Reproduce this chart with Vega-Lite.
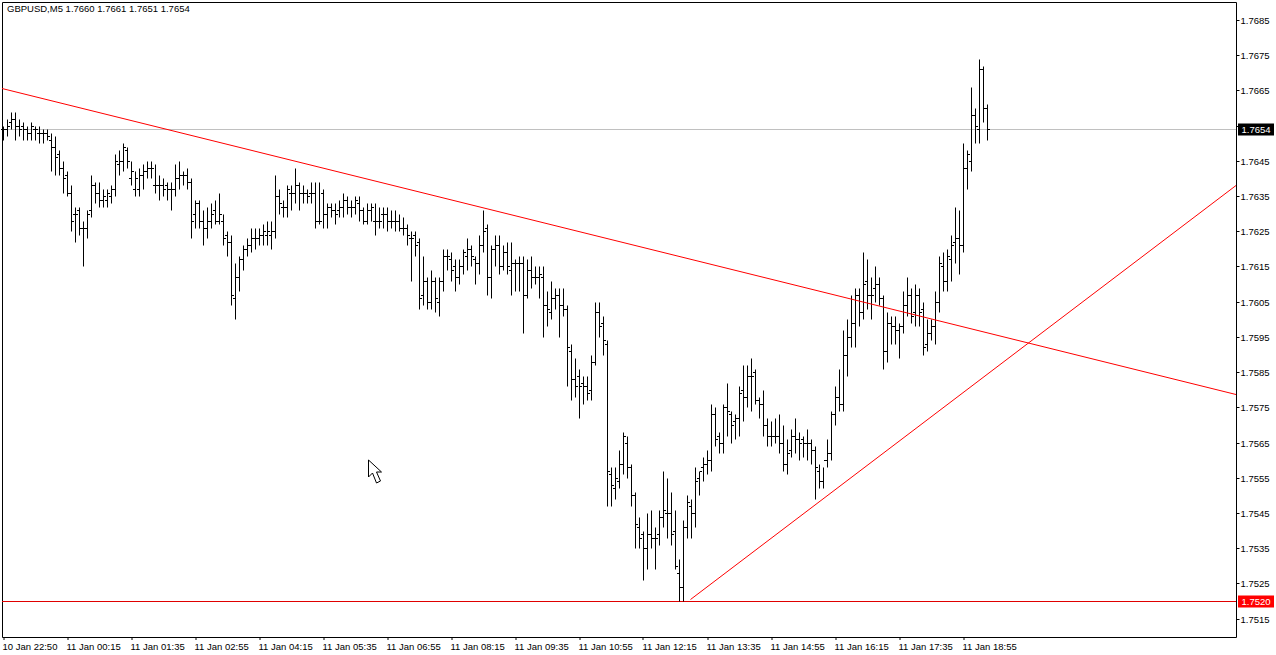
{
"$schema":"https://vega.github.io/schema/vega-lite/v6.json",
"width":1234,"height":635,
"autosize":{"type":"none"},
"padding":{"left":2,"top":2,"right":40,"bottom":18},
"background":"white",
"title":{"text":"GBPUSD,M5  1.7660 1.7661 1.7651 1.7654","anchor":"start","frame":"group","offset":-11,"dx":5,"fontSize":9.5,"fontWeight":"normal","font":"Liberation Sans","color":"black"},
"config":{"view":{"stroke":"black","strokeWidth":1}},
"datasets":{
"bars":[
{"i":0,"o":1.7654,"h":1.7655,"l":1.7651,"c":1.7654},{"i":1,"o":1.7654,"h":1.7657,"l":1.7652,"c":1.7655},{"i":2,"o":1.7656,"h":1.7659,"l":1.7654,"c":1.7657},{"i":3,"o":1.7657,"h":1.7659,"l":1.7651,"c":1.7655},{"i":4,"o":1.7655,"h":1.7657,"l":1.7652,"c":1.7654},{"i":5,"o":1.7655,"h":1.7656,"l":1.7651,"c":1.7654},{"i":6,"o":1.7654,"h":1.7655,"l":1.7651,"c":1.7653},{"i":7,"o":1.7653,"h":1.7656,"l":1.7651,"c":1.7655},{"i":8,"o":1.7654,"h":1.7655,"l":1.7651,"c":1.7654},{"i":9,"o":1.7653,"h":1.7655,"l":1.765,"c":1.7653},
{"i":10,"o":1.7653,"h":1.7654,"l":1.765,"c":1.7653},{"i":11,"o":1.7653,"h":1.7654,"l":1.7651,"c":1.7652},{"i":12,"o":1.7651,"h":1.7653,"l":1.7642,"c":1.7649},{"i":13,"o":1.7649,"h":1.7652,"l":1.7641,"c":1.7646},{"i":14,"o":1.7647,"h":1.7648,"l":1.7641,"c":1.7643},{"i":15,"o":1.7643,"h":1.7645,"l":1.7636,"c":1.764},{"i":16,"o":1.7641,"h":1.7642,"l":1.7635,"c":1.7636},{"i":17,"o":1.7636,"h":1.7638,"l":1.7625,"c":1.7628},{"i":18,"o":1.763,"h":1.7632,"l":1.7622,"c":1.763},{"i":19,"o":1.7631,"h":1.7632,"l":1.7624,"c":1.7626},
{"i":20,"o":1.7626,"h":1.7628,"l":1.7615,"c":1.7626},{"i":21,"o":1.7626,"h":1.7631,"l":1.7623,"c":1.763},{"i":22,"o":1.7631,"h":1.7641,"l":1.7629,"c":1.7638},{"i":23,"o":1.7638,"h":1.7639,"l":1.7633,"c":1.7636},{"i":24,"o":1.7636,"h":1.7639,"l":1.7632,"c":1.7634},{"i":25,"o":1.7634,"h":1.7637,"l":1.7632,"c":1.7635},{"i":26,"o":1.7634,"h":1.7637,"l":1.7632,"c":1.7636},{"i":27,"o":1.7635,"h":1.7638,"l":1.7633,"c":1.7637},{"i":28,"o":1.7637,"h":1.7647,"l":1.7635,"c":1.7645},{"i":29,"o":1.7644,"h":1.7648,"l":1.7641,"c":1.7645},
{"i":30,"o":1.7645,"h":1.765,"l":1.7642,"c":1.7649},{"i":31,"o":1.7648,"h":1.7649,"l":1.7643,"c":1.7645},{"i":32,"o":1.764,"h":1.7645,"l":1.7638,"c":1.7642},{"i":33,"o":1.7637,"h":1.7642,"l":1.7635,"c":1.764},{"i":34,"o":1.7637,"h":1.7643,"l":1.7635,"c":1.7641},{"i":35,"o":1.7641,"h":1.7644,"l":1.7637,"c":1.7642},{"i":36,"o":1.7642,"h":1.7645,"l":1.764,"c":1.7643},{"i":37,"o":1.7643,"h":1.7645,"l":1.764,"c":1.7643},{"i":38,"o":1.7638,"h":1.7644,"l":1.7636,"c":1.7638},{"i":39,"o":1.7638,"h":1.7641,"l":1.7634,"c":1.7638},
{"i":40,"o":1.7638,"h":1.764,"l":1.7635,"c":1.7637},{"i":41,"o":1.7638,"h":1.7639,"l":1.7634,"c":1.7637},{"i":42,"o":1.7637,"h":1.7639,"l":1.7631,"c":1.7637},{"i":43,"o":1.7637,"h":1.7644,"l":1.7635,"c":1.764},{"i":44,"o":1.764,"h":1.7645,"l":1.7637,"c":1.7641},{"i":45,"o":1.7641,"h":1.7642,"l":1.7638,"c":1.7641},{"i":46,"o":1.7641,"h":1.7643,"l":1.7637,"c":1.7639},{"i":47,"o":1.7639,"h":1.764,"l":1.7623,"c":1.7628},{"i":48,"o":1.763,"h":1.7634,"l":1.7626,"c":1.7633},{"i":49,"o":1.7633,"h":1.7634,"l":1.7626,"c":1.7628},
{"i":50,"o":1.7628,"h":1.7631,"l":1.7621,"c":1.7626},{"i":51,"o":1.7626,"h":1.7632,"l":1.7623,"c":1.7628},{"i":52,"o":1.7628,"h":1.7633,"l":1.7626,"c":1.763},{"i":53,"o":1.7631,"h":1.7634,"l":1.7627,"c":1.7628},{"i":54,"o":1.7628,"h":1.7636,"l":1.7627,"c":1.763},{"i":55,"o":1.7628,"h":1.763,"l":1.7621,"c":1.7623},{"i":56,"o":1.7624,"h":1.7625,"l":1.7618,"c":1.7622},{"i":57,"o":1.7622,"h":1.7624,"l":1.7604,"c":1.7607},{"i":58,"o":1.7606,"h":1.7616,"l":1.76,"c":1.7612},{"i":59,"o":1.7612,"h":1.7618,"l":1.7608,"c":1.7617},
{"i":60,"o":1.7617,"h":1.7621,"l":1.7614,"c":1.762},{"i":61,"o":1.762,"h":1.7623,"l":1.7618,"c":1.7621},{"i":62,"o":1.7621,"h":1.7626,"l":1.7619,"c":1.7623},{"i":63,"o":1.7623,"h":1.7626,"l":1.762,"c":1.7623},{"i":64,"o":1.7623,"h":1.7626,"l":1.7621,"c":1.7624},{"i":65,"o":1.7624,"h":1.7627,"l":1.7621,"c":1.7625},{"i":66,"o":1.7624,"h":1.7628,"l":1.7621,"c":1.7625},{"i":67,"o":1.7624,"h":1.7628,"l":1.762,"c":1.7625},{"i":68,"o":1.7625,"h":1.7641,"l":1.7623,"c":1.7635},{"i":69,"o":1.7635,"h":1.7637,"l":1.763,"c":1.7633},
{"i":70,"o":1.7632,"h":1.7634,"l":1.7629,"c":1.7632},{"i":71,"o":1.7632,"h":1.7638,"l":1.7629,"c":1.7637},{"i":72,"o":1.7636,"h":1.7638,"l":1.7631,"c":1.7636},{"i":73,"o":1.7636,"h":1.7643,"l":1.7633,"c":1.7638},{"i":74,"o":1.7638,"h":1.7639,"l":1.7631,"c":1.7636},{"i":75,"o":1.7636,"h":1.7638,"l":1.7633,"c":1.7636},{"i":76,"o":1.7636,"h":1.7637,"l":1.7633,"c":1.7635},{"i":77,"o":1.7636,"h":1.7639,"l":1.7633,"c":1.7636},{"i":78,"o":1.7636,"h":1.7639,"l":1.7626,"c":1.7628},{"i":79,"o":1.7628,"h":1.7639,"l":1.7627,"c":1.7628},
{"i":80,"o":1.7636,"h":1.7637,"l":1.7626,"c":1.763},{"i":81,"o":1.763,"h":1.7633,"l":1.7626,"c":1.7632},{"i":82,"o":1.7632,"h":1.7633,"l":1.7629,"c":1.7631},{"i":83,"o":1.7631,"h":1.7633,"l":1.7627,"c":1.763},{"i":84,"o":1.7631,"h":1.7634,"l":1.7629,"c":1.7632},{"i":85,"o":1.7632,"h":1.7636,"l":1.7629,"c":1.7634},{"i":86,"o":1.7634,"h":1.7635,"l":1.763,"c":1.7632},{"i":87,"o":1.7632,"h":1.7634,"l":1.7629,"c":1.7632},{"i":88,"o":1.7632,"h":1.7635,"l":1.763,"c":1.7634},{"i":89,"o":1.7633,"h":1.7635,"l":1.7628,"c":1.7631},
{"i":90,"o":1.7631,"h":1.7632,"l":1.7627,"c":1.7628},{"i":91,"o":1.7628,"h":1.7633,"l":1.7627,"c":1.7631},{"i":92,"o":1.7631,"h":1.7633,"l":1.7628,"c":1.7632},{"i":93,"o":1.7628,"h":1.7633,"l":1.7624,"c":1.7628},{"i":94,"o":1.7628,"h":1.7632,"l":1.7626,"c":1.7628},{"i":95,"o":1.763,"h":1.7632,"l":1.7626,"c":1.763},{"i":96,"o":1.763,"h":1.7632,"l":1.7625,"c":1.7628},{"i":97,"o":1.7628,"h":1.7631,"l":1.7626,"c":1.7628},{"i":98,"o":1.7628,"h":1.7631,"l":1.7625,"c":1.7628},{"i":99,"o":1.7628,"h":1.763,"l":1.7625,"c":1.7626},
{"i":100,"o":1.7626,"h":1.7629,"l":1.7624,"c":1.7626},{"i":101,"o":1.7626,"h":1.7627,"l":1.7621,"c":1.7624},{"i":102,"o":1.7623,"h":1.7625,"l":1.7611,"c":1.7623},{"i":103,"o":1.7624,"h":1.7625,"l":1.7618,"c":1.7621},{"i":104,"o":1.7622,"h":1.7623,"l":1.7603,"c":1.7606},{"i":105,"o":1.7607,"h":1.7618,"l":1.7604,"c":1.7611},{"i":106,"o":1.7611,"h":1.7612,"l":1.7603,"c":1.7605},{"i":107,"o":1.7605,"h":1.7614,"l":1.7603,"c":1.7611},{"i":108,"o":1.7611,"h":1.7612,"l":1.7602,"c":1.7606},{"i":109,"o":1.7605,"h":1.7612,"l":1.7601,"c":1.7611},
{"i":110,"o":1.7611,"h":1.762,"l":1.7608,"c":1.7618},{"i":111,"o":1.7618,"h":1.762,"l":1.7614,"c":1.7618},{"i":112,"o":1.7617,"h":1.7619,"l":1.7611,"c":1.7614},{"i":113,"o":1.7615,"h":1.7617,"l":1.7608,"c":1.7612},{"i":114,"o":1.7612,"h":1.7617,"l":1.761,"c":1.7615},{"i":115,"o":1.7615,"h":1.762,"l":1.7613,"c":1.7619},{"i":116,"o":1.7618,"h":1.7623,"l":1.7614,"c":1.762},{"i":117,"o":1.762,"h":1.7621,"l":1.7615,"c":1.7618},{"i":118,"o":1.7617,"h":1.7618,"l":1.761,"c":1.7616},{"i":119,"o":1.7616,"h":1.7624,"l":1.7613,"c":1.7621},
{"i":120,"o":1.7621,"h":1.7631,"l":1.7619,"c":1.7625},{"i":121,"o":1.7626,"h":1.7627,"l":1.7607,"c":1.7612},{"i":122,"o":1.7612,"h":1.7621,"l":1.7606,"c":1.762},{"i":123,"o":1.762,"h":1.7624,"l":1.7615,"c":1.7621},{"i":124,"o":1.7621,"h":1.7624,"l":1.7613,"c":1.7615},{"i":125,"o":1.7615,"h":1.7621,"l":1.7614,"c":1.7619},{"i":126,"o":1.7619,"h":1.7622,"l":1.7613,"c":1.7615},{"i":127,"o":1.7614,"h":1.7622,"l":1.7607,"c":1.7616},{"i":128,"o":1.7616,"h":1.7617,"l":1.7608,"c":1.7616},{"i":129,"o":1.7616,"h":1.7618,"l":1.7608,"c":1.7616},
{"i":130,"o":1.7616,"h":1.7618,"l":1.7596,"c":1.7607},{"i":131,"o":1.7607,"h":1.7617,"l":1.7606,"c":1.7614},{"i":132,"o":1.7614,"h":1.7618,"l":1.7609,"c":1.7612},{"i":133,"o":1.7612,"h":1.7615,"l":1.761,"c":1.7612},{"i":134,"o":1.7612,"h":1.7615,"l":1.7606,"c":1.7613},{"i":135,"o":1.7612,"h":1.7615,"l":1.7595,"c":1.7604},{"i":136,"o":1.7604,"h":1.7608,"l":1.7598,"c":1.7603},{"i":137,"o":1.7602,"h":1.7611,"l":1.76,"c":1.7606},{"i":138,"o":1.7606,"h":1.7609,"l":1.7603,"c":1.7607},{"i":139,"o":1.7607,"h":1.7609,"l":1.7595,"c":1.7604},
{"i":140,"o":1.7604,"h":1.7609,"l":1.7601,"c":1.7603},{"i":141,"o":1.7603,"h":1.7604,"l":1.7581,"c":1.7592},{"i":142,"o":1.7591,"h":1.7593,"l":1.7577,"c":1.7583},{"i":143,"o":1.7583,"h":1.7589,"l":1.7578,"c":1.7581},{"i":144,"o":1.7584,"h":1.7586,"l":1.7572,"c":1.7581},{"i":145,"o":1.7582,"h":1.7584,"l":1.7576,"c":1.7581},{"i":146,"o":1.7581,"h":1.7584,"l":1.7577,"c":1.7579},{"i":147,"o":1.758,"h":1.759,"l":1.7577,"c":1.7588},{"i":148,"o":1.7588,"h":1.7605,"l":1.7587,"c":1.7602},{"i":149,"o":1.7602,"h":1.7605,"l":1.7595,"c":1.7598},
{"i":150,"o":1.7599,"h":1.7601,"l":1.759,"c":1.7594},{"i":151,"o":1.7593,"h":1.7594,"l":1.7547,"c":1.7557},{"i":152,"o":1.7556,"h":1.7558,"l":1.7547,"c":1.7553},{"i":153,"o":1.7552,"h":1.7558,"l":1.7549,"c":1.7555},{"i":154,"o":1.7554,"h":1.7563,"l":1.7552,"c":1.7559},{"i":155,"o":1.7559,"h":1.7568,"l":1.7556,"c":1.7567},{"i":156,"o":1.7565,"h":1.7567,"l":1.7555,"c":1.7558},{"i":157,"o":1.7558,"h":1.7559,"l":1.7547,"c":1.755},{"i":158,"o":1.755,"h":1.7551,"l":1.7535,"c":1.7542},{"i":159,"o":1.7541,"h":1.7544,"l":1.7535,"c":1.7538},
{"i":160,"o":1.7539,"h":1.754,"l":1.7526,"c":1.7535},{"i":161,"o":1.7535,"h":1.7545,"l":1.7529,"c":1.7539},{"i":162,"o":1.7539,"h":1.7546,"l":1.7535,"c":1.7538},{"i":163,"o":1.7538,"h":1.7541,"l":1.7529,"c":1.7538},{"i":164,"o":1.7539,"h":1.7546,"l":1.7536,"c":1.7544},{"i":165,"o":1.7544,"h":1.7557,"l":1.7541,"c":1.7546},{"i":166,"o":1.7545,"h":1.7555,"l":1.7538,"c":1.7545},{"i":167,"o":1.7545,"h":1.7551,"l":1.7536,"c":1.7539},{"i":168,"o":1.754,"h":1.7546,"l":1.7529,"c":1.753},{"i":169,"o":1.7528,"h":1.7532,"l":1.752,"c":1.7524},
{"i":170,"o":1.7524,"h":1.7543,"l":1.752,"c":1.7541},{"i":171,"o":1.7541,"h":1.755,"l":1.7538,"c":1.7548},{"i":172,"o":1.7547,"h":1.7549,"l":1.7538,"c":1.7545},{"i":173,"o":1.7545,"h":1.7558,"l":1.7541,"c":1.7554},{"i":174,"o":1.7555,"h":1.7557,"l":1.755,"c":1.7557},{"i":175,"o":1.7558,"h":1.7561,"l":1.7554,"c":1.7559},{"i":176,"o":1.7559,"h":1.7563,"l":1.7556,"c":1.756},{"i":177,"o":1.756,"h":1.7576,"l":1.7557,"c":1.7573},{"i":178,"o":1.7573,"h":1.7575,"l":1.7564,"c":1.7566},{"i":179,"o":1.7567,"h":1.7568,"l":1.7562,"c":1.7565},
{"i":180,"o":1.7565,"h":1.7576,"l":1.7562,"c":1.7575},{"i":181,"o":1.7575,"h":1.7582,"l":1.7567,"c":1.7574},{"i":182,"o":1.7573,"h":1.7574,"l":1.7565,"c":1.757},{"i":183,"o":1.7571,"h":1.7573,"l":1.7566,"c":1.7572},{"i":184,"o":1.7572,"h":1.7581,"l":1.7567,"c":1.7579},{"i":185,"o":1.758,"h":1.7587,"l":1.7571,"c":1.7578},{"i":186,"o":1.7578,"h":1.7587,"l":1.7575,"c":1.7584},{"i":187,"o":1.7584,"h":1.7589,"l":1.7574,"c":1.7584},{"i":188,"o":1.7585,"h":1.7586,"l":1.7576,"c":1.7577},{"i":189,"o":1.7577,"h":1.7578,"l":1.7572,"c":1.7576},
{"i":190,"o":1.7576,"h":1.758,"l":1.7567,"c":1.757},{"i":191,"o":1.757,"h":1.7572,"l":1.7564,"c":1.7567},{"i":192,"o":1.7567,"h":1.7571,"l":1.7564,"c":1.7567},{"i":193,"o":1.7567,"h":1.7572,"l":1.7565,"c":1.7567},{"i":194,"o":1.7567,"h":1.7573,"l":1.7562,"c":1.7565},{"i":195,"o":1.7565,"h":1.757,"l":1.7557,"c":1.7559},{"i":196,"o":1.7559,"h":1.7566,"l":1.7556,"c":1.7562},{"i":197,"o":1.7563,"h":1.7569,"l":1.7561,"c":1.7567},{"i":198,"o":1.7567,"h":1.7572,"l":1.7562,"c":1.7566},{"i":199,"o":1.7566,"h":1.7568,"l":1.756,"c":1.7565},
{"i":200,"o":1.7566,"h":1.7567,"l":1.7561,"c":1.7565},{"i":201,"o":1.7565,"h":1.7569,"l":1.756,"c":1.7565},{"i":202,"o":1.7565,"h":1.7566,"l":1.7559,"c":1.7563},{"i":203,"o":1.7563,"h":1.7564,"l":1.7549,"c":1.7558},{"i":204,"o":1.7557,"h":1.7559,"l":1.7552,"c":1.7554},{"i":205,"o":1.7554,"h":1.7558,"l":1.7552,"c":1.756},{"i":206,"o":1.756,"h":1.7566,"l":1.7558,"c":1.7562},{"i":207,"o":1.7562,"h":1.7574,"l":1.756,"c":1.7573},{"i":208,"o":1.7573,"h":1.7581,"l":1.757,"c":1.7578},{"i":209,"o":1.7578,"h":1.7586,"l":1.7574,"c":1.7576},
{"i":210,"o":1.7576,"h":1.7597,"l":1.7574,"c":1.759},{"i":211,"o":1.759,"h":1.76,"l":1.7584,"c":1.7595},{"i":212,"o":1.7595,"h":1.7607,"l":1.7592,"c":1.7599},{"i":213,"o":1.7599,"h":1.7609,"l":1.7592,"c":1.7607},{"i":214,"o":1.7607,"h":1.7609,"l":1.7598,"c":1.7602},{"i":215,"o":1.7602,"h":1.7619,"l":1.76,"c":1.761},{"i":216,"o":1.7611,"h":1.7617,"l":1.7603,"c":1.7607},{"i":217,"o":1.7607,"h":1.7612,"l":1.76,"c":1.7607},{"i":218,"o":1.7609,"h":1.7615,"l":1.7605,"c":1.761},{"i":219,"o":1.761,"h":1.7612,"l":1.7604,"c":1.7606},
{"i":220,"o":1.7606,"h":1.7607,"l":1.7586,"c":1.7591},{"i":221,"o":1.7591,"h":1.7602,"l":1.7588,"c":1.7599},{"i":222,"o":1.7599,"h":1.7601,"l":1.7593,"c":1.7598},{"i":223,"o":1.7598,"h":1.7601,"l":1.7593,"c":1.7597},{"i":224,"o":1.7597,"h":1.7599,"l":1.7589,"c":1.7598},{"i":225,"o":1.7598,"h":1.7608,"l":1.7596,"c":1.7604},{"i":226,"o":1.7604,"h":1.7612,"l":1.7601,"c":1.7607},{"i":227,"o":1.7607,"h":1.7609,"l":1.7599,"c":1.7601},{"i":228,"o":1.7602,"h":1.761,"l":1.7598,"c":1.7607},{"i":229,"o":1.7607,"h":1.7609,"l":1.7598,"c":1.7602},
{"i":230,"o":1.7603,"h":1.7605,"l":1.759,"c":1.7592},{"i":231,"o":1.7593,"h":1.76,"l":1.7591,"c":1.7596},{"i":232,"o":1.7596,"h":1.76,"l":1.7594,"c":1.7598},{"i":233,"o":1.7598,"h":1.7608,"l":1.7593,"c":1.7605},{"i":234,"o":1.7605,"h":1.7618,"l":1.7602,"c":1.7616},{"i":235,"o":1.7615,"h":1.7619,"l":1.7608,"c":1.7611},{"i":236,"o":1.7611,"h":1.762,"l":1.7608,"c":1.7618},{"i":237,"o":1.7617,"h":1.7624,"l":1.7611,"c":1.7621},{"i":238,"o":1.7622,"h":1.7632,"l":1.7616,"c":1.7623},{"i":239,"o":1.7623,"h":1.7631,"l":1.7613,"c":1.7621},
{"i":240,"o":1.7621,"h":1.765,"l":1.7619,"c":1.7643},{"i":241,"o":1.7643,"h":1.7648,"l":1.7637,"c":1.7647},{"i":242,"o":1.7645,"h":1.7666,"l":1.7642,"c":1.7658},{"i":243,"o":1.7658,"h":1.766,"l":1.765,"c":1.7655},{"i":244,"o":1.7654,"h":1.7674,"l":1.765,"c":1.7671},{"i":245,"o":1.7671,"h":1.7672,"l":1.7656,"c":1.766},{"i":246,"o":1.766,"h":1.7661,"l":1.7651,"c":1.7654}
]},
"layer":[
{"data":{"values":[{"p":1.7654}]},"mark":{"type":"rule","color":"#c0c0c0","strokeWidth":1,"yOffset":0.5},
 "encoding":{"y":{"field":"p","type":"quantitative","scale":{"domain":[1.75098,1.76901],"round":true,"nice":false,"zero":false},
   "axis":{"title":null,"grid":false,"orient":"right","format":".4f","tickCount":40,"values":[1.7515,1.7525,1.7535,1.7545,1.7555,1.7565,1.7575,1.7585,1.7595,1.7605,1.7615,1.7625,1.7635,1.7645,1.7655,1.7665,1.7675,1.7685],
    "tickSize":3,"tickColor":"black","domain":false,"labelColor":"black","labelPadding":1,"labelFont":"Liberation Sans","labelFontSize":9.5,"labelOverlap":false,"labelBound":false}}}},
{"data":{"values":[{"p":1.752}]},"mark":{"type":"rule","color":"#e00000","strokeWidth":1,"yOffset":0.5},
 "encoding":{"y":{"field":"p","type":"quantitative","scale":{"domain":[1.75098,1.76901],"round":true,"nice":false,"zero":false}}}},
{"data":{"name":"bars"},"mark":{"type":"rule","color":"black","strokeWidth":1,"yOffset":0.5,"y2Offset":0.5},
 "encoding":{
  "x":{"field":"i","type":"quantitative","scale":{"domain":[-0.375,308.125],"nice":false,"zero":false},
   "axis":{"title":null,"grid":false,"translate":0,"domain":false,"values":[0,16,32,48,64,80,96,112,128,144,160,176,192,208,224,240],
    "labelExpr":"['10 Jan 22:50','11 Jan 00:15','11 Jan 01:35','11 Jan 02:55','11 Jan 04:15','11 Jan 05:35','11 Jan 06:55','11 Jan 08:15','11 Jan 09:35','11 Jan 10:55','11 Jan 12:15','11 Jan 13:35','11 Jan 14:55','11 Jan 16:15','11 Jan 17:35','11 Jan 18:55'][datum.value/16]",
    "labelAlign":"left","labelBaseline":"top","labelPadding":2,"labelOffset":-1,"tickSize":3,"tickColor":"black","labelColor":"black","labelFont":"Liberation Sans","labelFontSize":9.5,"labelOverlap":false,"labelFlush":false,"labelBound":false}},
  "y":{"field":"h","type":"quantitative","scale":{"domain":[1.75098,1.76901],"round":true,"nice":false,"zero":false}},
  "y2":{"field":"l"}}},
{"data":{"name":"bars"},"mark":{"type":"tick","orient":"horizontal","size":2,"thickness":1,"xOffset":-1.5,"yOffset":0.5,"color":"black","opacity":1},
 "encoding":{"x":{"field":"i","type":"quantitative","scale":{"domain":[-0.375,308.125],"nice":false,"zero":false}},
  "y":{"field":"o","type":"quantitative","scale":{"domain":[1.75098,1.76901],"round":true,"nice":false,"zero":false}}}},
{"data":{"name":"bars"},"mark":{"type":"tick","orient":"horizontal","size":2,"thickness":1,"xOffset":1.5,"yOffset":0.5,"color":"black","opacity":1},
 "encoding":{"x":{"field":"i","type":"quantitative","scale":{"domain":[-0.375,308.125],"nice":false,"zero":false}},
  "y":{"field":"c","type":"quantitative","scale":{"domain":[1.75098,1.76901],"round":true,"nice":false,"zero":false}}}},
{"data":{"values":[{"i":-0.375,"p":1.76657,"s":"a"},{"i":308.125,"p":1.75787,"s":"a"},{"i":171.75,"p":1.75207,"s":"b"},{"i":308.125,"p":1.76382,"s":"b"}]},
 "mark":{"type":"line","color":"#ff0000","strokeWidth":1,"yOffset":0.5},
 "encoding":{"x":{"field":"i","type":"quantitative","scale":{"domain":[-0.375,308.125],"nice":false,"zero":false}},
  "y":{"field":"p","type":"quantitative","scale":{"domain":[1.75098,1.76901],"round":true,"nice":false,"zero":false}},
  "detail":{"field":"s"}}},
{"data":{"values":[{"i":313,"p":1.7654,"kind":"bid"},{"i":313,"p":1.752,"kind":"level"}]},
 "mark":{"type":"tick","orient":"horizontal","size":36,"thickness":12,"xOffset":0.5,"yOffset":0.5,"opacity":1,"clip":false},
 "encoding":{"x":{"field":"i","type":"quantitative","scale":{"domain":[-0.375,308.125],"nice":false,"zero":false}},
  "y":{"field":"p","type":"quantitative","scale":{"domain":[1.75098,1.76901],"round":true,"nice":false,"zero":false}},
  "color":{"field":"kind","type":"nominal","scale":{"domain":["bid","level"],"range":["#000000","#ff0000"]},"legend":null}}},
{"data":{"values":[{"i":313,"p":1.7654,"t":"1.7654"},{"i":313,"p":1.752,"t":"1.7520"}]},
 "mark":{"type":"text","color":"white","font":"Liberation Sans","fontSize":9.5,"align":"center","baseline":"middle","clip":false,"xOffset":0.5,"yOffset":0.5},
 "encoding":{"x":{"field":"i","type":"quantitative","scale":{"domain":[-0.375,308.125],"nice":false,"zero":false}},
  "y":{"field":"p","type":"quantitative","scale":{"domain":[1.75098,1.76901],"round":true,"nice":false,"zero":false}},
  "text":{"field":"t"}}},
{"data":{"values":[{"i":91.25,"p":1.756}]},
 "mark":{"type":"point","shape":"M0,0 L0,17 L4,13 L8,23 L12,21 L8,12 L13,12 Z","size":4,"filled":true,"fill":"white","stroke":"black","strokeWidth":1,"opacity":1},
 "encoding":{"x":{"field":"i","type":"quantitative","scale":{"domain":[-0.375,308.125],"nice":false,"zero":false}},
  "y":{"field":"p","type":"quantitative","scale":{"domain":[1.75098,1.76901],"round":true,"nice":false,"zero":false}}}}
]
}
